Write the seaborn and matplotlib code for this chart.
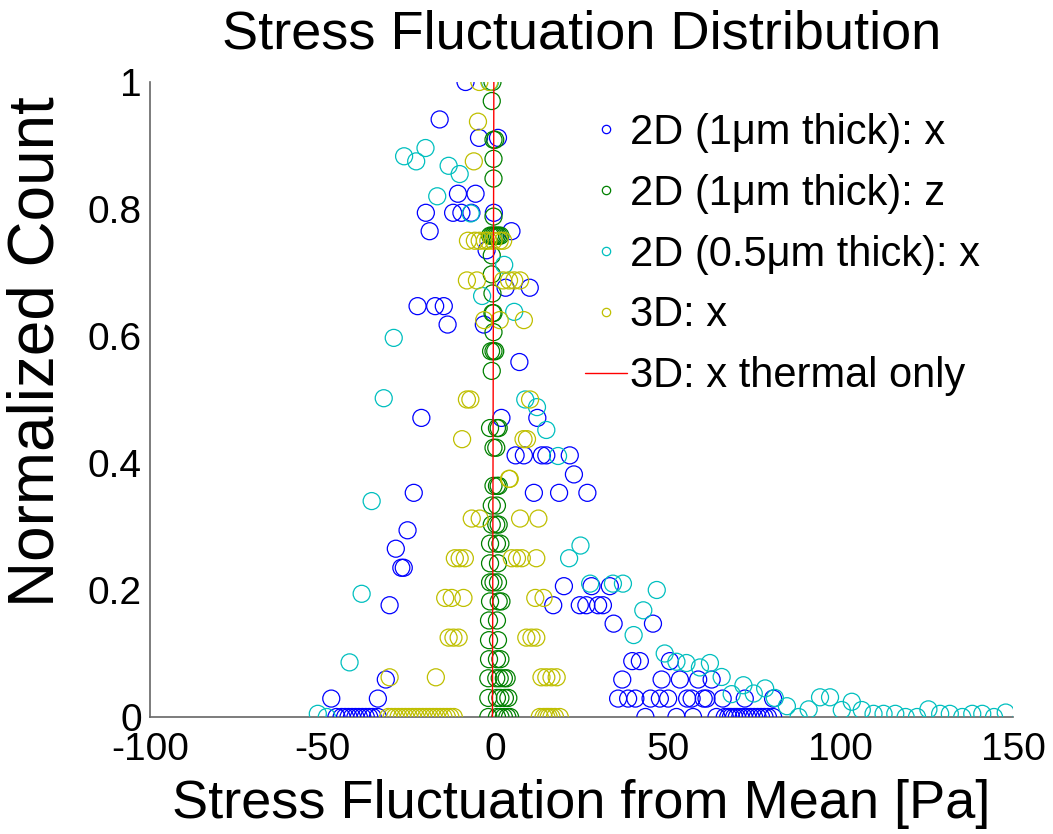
import matplotlib
matplotlib.use("Agg")
import matplotlib.pyplot as plt
import seaborn as sns
from matplotlib.lines import Line2D

# 2D (1um thick): x  -- blue
blue_x = [-8.6, -16.1, -4.7, 0.8, -10.8, -5.7, -20.1, -12.2, -9.8, -6.9, -0.4, -19.0, 4.7,
          -2.5, 3.0, 10.0, -22.5, -17.4, -14.9, -13.8, -3.3, 7.0, -21.4, 1.8, 12.2,
          5.9, 8.3, 13.5, 14.8, 21.6, 22.8, -23.6, 11.2, 18.5, 26.7, -25.4, -28.8,
          -27.2, -26.5, 19.9, 27.9, 33.2, -30.6, 16.8, 24.5, 26.4, 29.8, 31.2, 34.3,
          45.7, 39.7, 41.9, 50.6, -31.7, 36.8, 48.2, 53.5, 58.8, 62.7,
          -47.5, -34.0, 35.6, 38.5, 40.6, 45.0, 47.7, 50.1, 55.6, 56.9, 60.4, 61.2,
          65.9, 72.3, 80.5,
          -46.0, -44.5, -43.5, -42.5, -41.5, -40.5, -39.5, -38.5, -37.5, -36.5, -35.5,
          -34.0, 43.5, 52.5, 57.3, 64.1, 66.5, 67.5, 68.3, 69.2, 70.0, 71.0, 72.0,
          73.0, 74.0, 75.0, 76.0, 77.0, 78.0, 79.0, 80.5]
blue_y = [1.0, 0.941, 0.912, 0.912, 0.824, 0.824, 0.794, 0.794, 0.794, 0.794, 0.794, 0.765, 0.765,
          0.735, 0.676, 0.676, 0.647, 0.647, 0.647, 0.618, 0.618, 0.559, 0.471, 0.471, 0.471,
          0.412, 0.412, 0.412, 0.412, 0.412, 0.382, 0.353, 0.353, 0.353, 0.353, 0.294, 0.265,
          0.235, 0.235, 0.206, 0.206, 0.206, 0.176, 0.176, 0.176, 0.176, 0.176, 0.176, 0.147,
          0.147, 0.088, 0.088, 0.088, 0.059, 0.059, 0.059, 0.059, 0.059, 0.059,
          0.029, 0.029, 0.029, 0.029, 0.029, 0.029, 0.029, 0.029, 0.029, 0.029, 0.029, 0.029,
          0.029, 0.029, 0.029,
          0, 0, 0, 0, 0, 0, 0, 0, 0, 0, 0,
          0, 0, 0, 0, 0, 0, 0, 0, 0, 0, 0, 0,
          0, 0, 0, 0, 0, 0, 0, 0]

# 2D (1um thick): z  -- green
green_x = [-2.0, 0.5, 1.5, 2.5, 3.5, 4.3,
           -2.0, 0.5, 1.5, 2.8, 3.8,
           -2.0, 0.3, 1.3, 2.5, 3.3,
           -1.8, 0.5, 1.5,
           -1.8, 0.8,
           -1.8, 0.5,
           -1.5, 1.0, 1.8,
           -1.5, -0.5, 0.8,
           -1.5, 0.8,
           -1.5, 0.5, 1.5,
           -1.0, 0.3, 1.0,
           -1.0, 0.5,
           -0.5, 0.5, 1.0,
           -0.5, 0.3,
           -1.5, 0.5, 1.0,
           -1.0,
           -1.2, -0.5, 0.0,
           -0.5,
           -0.8, -0.5,
           -0.8,
           -1.0,
           -1.0,
           -1.5, -1.0, -0.5, 0.0, 0.5, 1.0, 1.5,
           -0.5, -0.5, -0.5, -0.5, 0.0, -1.0, -0.8]
green_y = [0, 0, 0, 0, 0, 0,
           0.030, 0.030, 0.030, 0.030, 0.030,
           0.061, 0.061, 0.061, 0.061, 0.061,
           0.091, 0.091, 0.091,
           0.121, 0.121,
           0.152, 0.152,
           0.182, 0.182, 0.182,
           0.212, 0.212, 0.212,
           0.242, 0.242,
           0.273, 0.273, 0.273,
           0.303, 0.303, 0.303,
           0.333, 0.333,
           0.364, 0.364, 0.364,
           0.424, 0.424,
           0.455, 0.455, 0.455,
           0.545,
           0.576, 0.576, 0.576,
           0.606,
           0.636, 0.636,
           0.667,
           0.697,
           0.727,
           0.758, 0.758, 0.758, 0.758, 0.758, 0.758, 0.758,
           0.788, 0.848, 0.879, 0.909, 0.909, 0.970, 1.0]

# 2D (0.5um thick): x  -- cyan
cyan_x = [-1.5, -20.2, -26.4, -22.9, -13.5, -10.3, -16.8, -7.1, 2.6, -3.8, 5.5, -29.4,
          -32.3, 8.7, 12.1, 14.8, -35.8, 18.2, 24.7, 21.4, 27.5, 34.1, 37.0, 46.8,
          42.9, 40.1, 49.1, 52.5, 55.4, 59.3, 62.2, 65.6, 68.5, 71.9, 74.9, 78.2,
          81.0, 84.5, 87.9, 90.8, 94.1, 97.0, 100.4, 103.3, 106.2, 109.6, 112.5,
          115.9, 118.9, 122.2, 125.5, 128.9, 131.7, 135.3, 138.2, 141.1, 144.5,
          147.9, -38.7, -42.2, -51.4, -48.8]
cyan_y = [1.0, 0.896, 0.883, 0.875, 0.868, 0.855, 0.82, 0.793, 0.712, 0.663, 0.638, 0.597,
          0.502, 0.5, 0.488, 0.452, 0.340, 0.411, 0.27, 0.25, 0.21, 0.21, 0.21, 0.2,
          0.168, 0.129, 0.1, 0.087, 0.085, 0.078, 0.085, 0.063, 0.036, 0.05, 0.037, 0.045,
          0.03, 0.017, 0.0, 0.012, 0.031, 0.031, 0.011, 0.024, 0.011, 0.005, 0.005,
          0.005, 0.0, 0.0, 0.012, 0.005, 0.005, 0.0, 0.005, 0.005, 0.0,
          0.007, 0.194, 0.086, 0.005, 0.0]

# 3D: x  -- yellow
yellow_x = [-4.6, -1.7, -5.0, -6.2,
            -7.9, -5.9, -4.5, -3.0, -2.0, -0.5, 1.3, 2.3,
            -8.2, -5.3, 2.3, 4.0, 5.5, 7.2,
            -3.2, 1.3, 8.3,
            -8.2, -7.2, 10.1,
            -9.6, 8.2, 9.2,
            4.0, 4.2,
            -6.8, 7.2, 12.5, -4.5,
            -11.7, -10.3, -8.8, 4.8, 6.3, 7.7, 11.9,
            -14.5, -12.6, -9.2, 11.6, 14.0,
            -13.5, -12.1, -10.6, 9.0, 10.5, 11.9,
            -30.6, -17.2, 13.4, 14.8, 16.3, 17.8,
            -31.0, -30.0, -29.0, -28.0, -27.0, -26.0, -25.0, -24.0, -23.0, -22.0,
            -21.0, -20.0, -19.0, -18.0, -17.0, -16.0, -15.0, -14.0, -13.0, -12.0,
            12.9, 14.0, 14.8, 15.5, 16.3, 17.3, 18.7]
yellow_y = [1.0, 1.0, 0.9375, 0.875,
            0.75, 0.75, 0.75, 0.75, 0.75, 0.75, 0.75, 0.75,
            0.6875, 0.6875, 0.6875, 0.6875, 0.6875, 0.6875,
            0.625, 0.625, 0.625,
            0.5, 0.5, 0.5,
            0.4375, 0.4375, 0.4375,
            0.375, 0.375,
            0.3125, 0.3125, 0.3125, 0.3125,
            0.25, 0.25, 0.25, 0.25, 0.25, 0.25, 0.25,
            0.1875, 0.1875, 0.1875, 0.1875, 0.1875,
            0.125, 0.125, 0.125, 0.125, 0.125, 0.125,
            0.0625, 0.0625, 0.0625, 0.0625, 0.0625, 0.0625,
            0, 0, 0, 0, 0, 0, 0, 0, 0, 0,
            0, 0, 0, 0, 0, 0, 0, 0, 0, 0,
            0, 0, 0, 0, 0, 0, 0]

# 3D: x thermal only -- red line
thermal_x = [-0.8, -0.4]
thermal_y = [0.0, 1.0]

labels = ["2D (1\u03bcm thick): x", "2D (1\u03bcm thick): z",
          "2D (0.5\u03bcm thick): x", "3D: x", "3D: x thermal only"]
colors = ["#0000ff", "#008000", "#00bfbf", "#bfbf00", "#ff0000"]

sns.set_style("white")
plt.rcParams['font.family'] = ['Liberation Sans', 'DejaVu Sans']
plt.rcParams['axes.unicode_minus'] = False
plt.rcParams['text.color'] = 'black'
plt.rcParams['axes.labelcolor'] = 'black'

fig = plt.figure(figsize=(10.53, 8.34), dpi=100)
ax = fig.add_axes([0.1425, 0.1403, 0.8195, 0.7614])

series = [(blue_x, blue_y), (green_x, green_y), (cyan_x, cyan_y), (yellow_x, yellow_y)]
for (xs, ys), c in zip(series, colors[:4]):
    sns.scatterplot(x=xs, y=ys, ax=ax, marker="o", s=150, facecolor="none",
                    edgecolor=c, linewidth=0.9, legend=False, zorder=3)

sns.lineplot(x=thermal_x, y=thermal_y, ax=ax, color=colors[4], linewidth=1.0,
             sort=False, estimator=None, legend=False, zorder=4)

ax.set_xlim(-100, 150)
ax.set_ylim(0, 1)
ax.set_xticks([-100, -50, 0, 50, 100, 150])
ax.set_yticks([0, 0.2, 0.4, 0.6, 0.8, 1])
ax.set_yticklabels(["0", "0.2", "0.4", "0.6", "0.8", "1"])
ax.tick_params(axis="both", direction="in", length=5, width=1, labelsize=28,
               colors="black")
ax.tick_params(axis="x", pad=11)
ax.tick_params(axis="y", pad=6)
for side in ["top", "right"]:
    ax.spines[side].set_visible(False)
for side in ["left", "bottom"]:
    ax.spines[side].set_color("#666666")
    ax.spines[side].set_linewidth(1.2)

ax.set_title("Stress Fluctuation Distribution", fontsize=39, pad=24)
ax.set_xlabel("Stress Fluctuation from Mean [Pa]", fontsize=39, labelpad=8)
ax.set_ylabel("Normalized Count", fontsize=46)
ax.yaxis.set_label_coords(-0.097, 0.575)

handles = [Line2D([], [], linestyle="none", marker="o", markersize=6,
                  markerfacecolor="none", markeredgecolor=c, markeredgewidth=0.9)
           for c in colors[:4]]
handles.append(Line2D([], [], color=colors[4], linewidth=1))
fig.legend(handles, labels, loc="upper left", bbox_to_anchor=(585 / 1053, 1 - 113 / 834),
           frameon=False, fontsize=30, handlelength=1.0, handletextpad=0.08,
           labelspacing=0.5, borderpad=0, borderaxespad=0)

fig.savefig("out.png", dpi=100)
